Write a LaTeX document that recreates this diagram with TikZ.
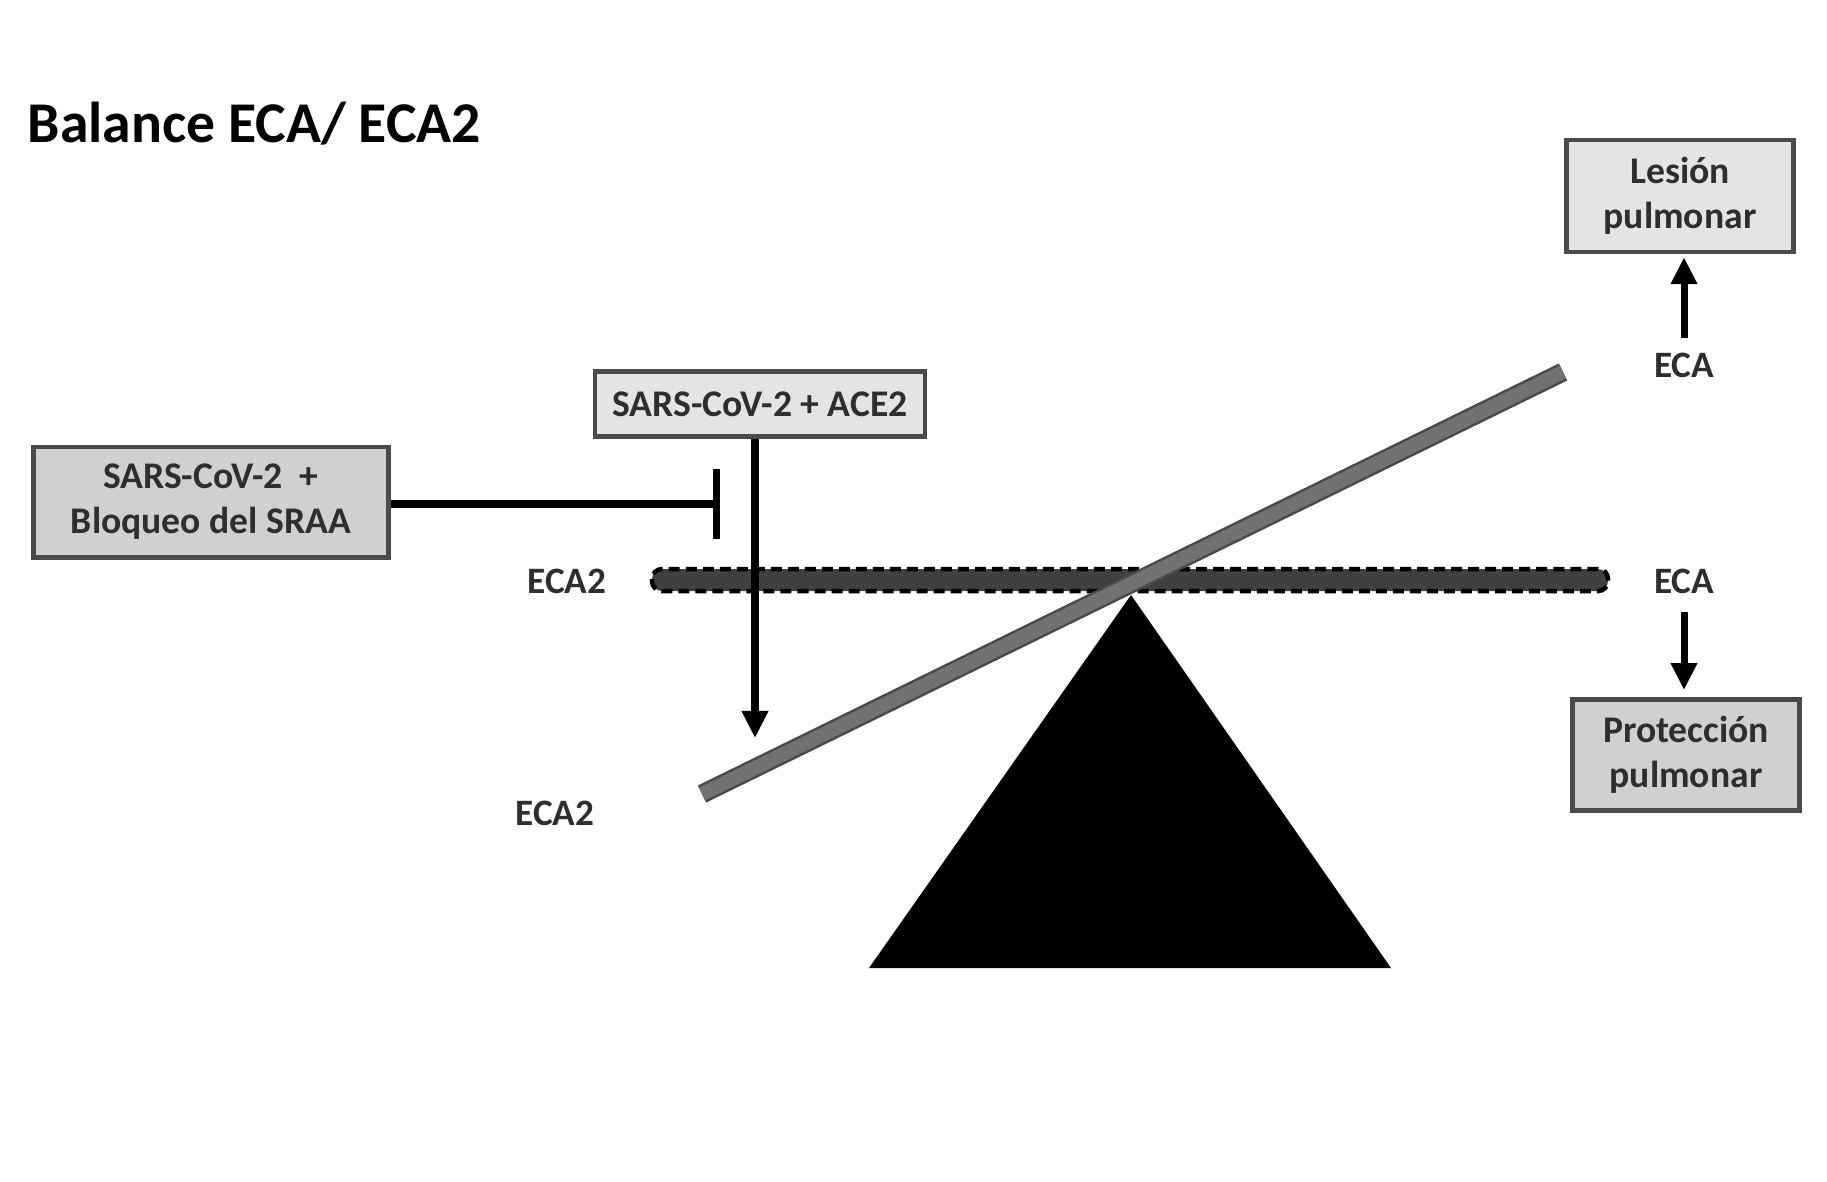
\documentclass[tikz,border=0pt]{standalone}
\usepackage{fontspec}
\setmainfont{Carlito}
\usepackage{xcolor}
\usetikzlibrary{arrows.meta}
\usetikzlibrary{positioning}

\definecolor{borde}{HTML}{4A4A4A}
\definecolor{texto}{HTML}{2E2E2E}
\definecolor{claro}{HTML}{E4E4E4}
\definecolor{medio}{HTML}{D0D0D0}
\definecolor{barra}{HTML}{404040}
\definecolor{viga}{HTML}{727272}

\begin{document}
\begin{tikzpicture}[x=0.01cm, y=-0.01cm,
  caja/.style={draw=borde, line width=1.2pt, text=texto, align=center, inner sep=0pt,
    font=\bfseries\fontsize{10.7}{12.8}\selectfont},
  etiqueta/.style={text=texto, inner sep=1pt, font=\bfseries\fontsize{10.6}{12}\selectfont},
  flecha/.style={-{Triangle[length=0.27cm, width=0.25cm]}, line width=2pt}]

\useasboundingbox (0,0) rectangle (1827,1181);

% Titulo
\node[anchor=base west, inner sep=0pt, font=\bfseries\fontsize{16.4}{20}\selectfont] (titulo) at (27,142) {Balance ECA/ ECA2};

% Barra horizontal y balanza
\draw[draw=black, fill=barra, line width=0.045cm, dash pattern=on 0.11cm off 0.06cm, rounded corners=0.1cm]
  (652,569) rectangle (1608,591);
\fill[black] (869,968) -- (1131,595) -- (1391,968) -- cycle;
\draw[draw=borde, line width=0.025cm, double=viga, double distance=0.14cm] (702,794) -- (1563,372);

% Cajas
\node[caja, fill=claro, minimum width=2.27cm, minimum height=1.12cm] (lesion) at (1680,196) {Lesión\\pulmonar};
\node[caja, fill=medio, line width=1.4pt, minimum width=2.27cm, minimum height=1.11cm] (proteccion) at (1686,755) {Protección\\pulmonar};
\node[caja, fill=claro, minimum width=3.30cm, minimum height=0.65cm] (ace) at (760,404) {SARS-CoV-2 + ACE2};
\node[caja, fill=medio, line width=1.4pt, minimum width=3.55cm, minimum height=1.10cm] (bloqueo) at (211,502) {SARS-CoV-2\ \ +\\Bloqueo del SRAA};

% Etiquetas
\node[etiqueta, anchor=base] (ecaA) at (1684,377) {ECA};
\node[etiqueta, anchor=base] (ecaB) at (1684,593) {ECA};
\node[etiqueta, anchor=base] (eca2A) at (567,593) {ECA2};
\node[etiqueta, anchor=base] (eca2B) at (555,825) {ECA2};

% Flechas
\coordinate (punta) at (755,738);
\coordinate (freno) at (720,504);
\draw[flecha] ([yshift=0.1cm]ecaA.north) -- ([yshift=-0.03cm]ecaA.north |- lesion.south);
\draw[flecha] ([yshift=-0.15cm]ecaB.south) -- ([yshift=0.07cm]ecaB.south |- proteccion.north);
\draw[flecha] (ace.south -| punta) -- (punta);
\draw[-{Bar[width=0.69cm]}, line width=2pt] (bloqueo.east |- freno) -- (freno);

\end{tikzpicture}
\end{document}
